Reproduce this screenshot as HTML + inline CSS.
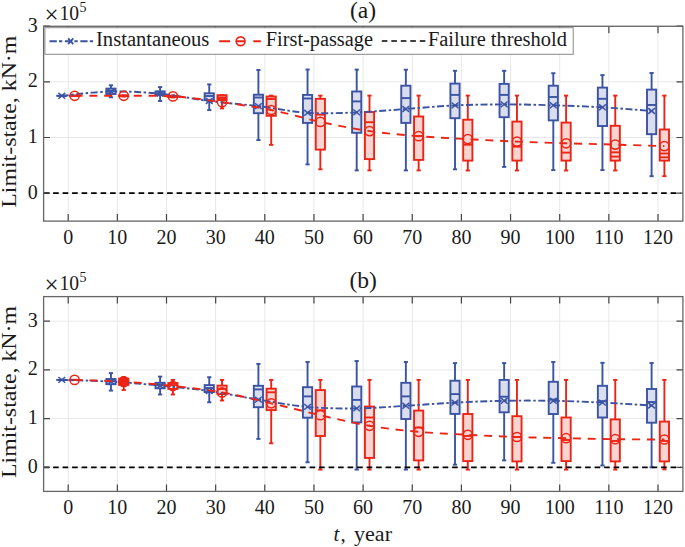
<!DOCTYPE html>
<html><head><meta charset="utf-8"><style>
html,body{margin:0;padding:0;background:#fff;}
svg{display:block;}
.tk{font-family:"Liberation Serif",serif;font-size:20px;fill:#1a1a1a;}
</style></head><body><svg width="685" height="547" viewBox="0 0 685 547"><rect width="685" height="547" fill="#fff"/><g stroke="#e8e8e8" stroke-width="1"><line x1="68.2" y1="26.3" x2="68.2" y2="221.1"/><line x1="117.35" y1="26.3" x2="117.35" y2="221.1"/><line x1="166.5" y1="26.3" x2="166.5" y2="221.1"/><line x1="215.65" y1="26.3" x2="215.65" y2="221.1"/><line x1="264.8" y1="26.3" x2="264.8" y2="221.1"/><line x1="313.95" y1="26.3" x2="313.95" y2="221.1"/><line x1="363.1" y1="26.3" x2="363.1" y2="221.1"/><line x1="412.25" y1="26.3" x2="412.25" y2="221.1"/><line x1="461.4" y1="26.3" x2="461.4" y2="221.1"/><line x1="510.55" y1="26.3" x2="510.55" y2="221.1"/><line x1="559.7" y1="26.3" x2="559.7" y2="221.1"/><line x1="608.85" y1="26.3" x2="608.85" y2="221.1"/><line x1="658" y1="26.3" x2="658" y2="221.1"/><line x1="43.6" y1="193.2" x2="682.9" y2="193.2"/><line x1="43.6" y1="137.5" x2="682.9" y2="137.5"/><line x1="43.6" y1="81.8" x2="682.9" y2="81.8"/><line x1="43.6" y1="26.1" x2="682.9" y2="26.1"/></g><g stroke="#3a53a3" stroke-width="1.9" fill="none"><line x1="61.8" y1="95.8" x2="61.8" y2="95.8"/><line x1="61.8" y1="95.81" x2="61.8" y2="95.8"/><line x1="59.7" y1="95.8" x2="63.9" y2="95.8"/><line x1="59.7" y1="95.8" x2="63.9" y2="95.8"/><rect x="57.2" y="95.8" width="9.2" height="0.01" fill="#d9ddee"/><line x1="57.2" y1="95.8" x2="66.4" y2="95.8"/><line x1="110.95" y1="85.3" x2="110.95" y2="88.6"/><line x1="110.95" y1="94" x2="110.95" y2="97.3"/><line x1="108.85" y1="85.3" x2="113.05" y2="85.3"/><line x1="108.85" y1="97.3" x2="113.05" y2="97.3"/><rect x="106.35" y="88.6" width="9.2" height="5.4" fill="#d9ddee"/><line x1="106.35" y1="91" x2="115.55" y2="91"/><line x1="160.1" y1="87.1" x2="160.1" y2="91.4"/><line x1="160.1" y1="95.1" x2="160.1" y2="101"/><line x1="158" y1="87.1" x2="162.2" y2="87.1"/><line x1="158" y1="101" x2="162.2" y2="101"/><rect x="155.5" y="91.4" width="9.2" height="3.7" fill="#d9ddee"/><line x1="155.5" y1="93.5" x2="164.7" y2="93.5"/><line x1="209.25" y1="84.4" x2="209.25" y2="93.3"/><line x1="209.25" y1="100.2" x2="209.25" y2="110.1"/><line x1="207.15" y1="84.4" x2="211.35" y2="84.4"/><line x1="207.15" y1="110.1" x2="211.35" y2="110.1"/><rect x="204.65" y="93.3" width="9.2" height="6.9" fill="#d9ddee"/><line x1="204.65" y1="96" x2="213.85" y2="96"/><line x1="258.4" y1="70" x2="258.4" y2="94.7"/><line x1="258.4" y1="113.2" x2="258.4" y2="140.1"/><line x1="256.3" y1="70" x2="260.5" y2="70"/><line x1="256.3" y1="140.1" x2="260.5" y2="140.1"/><rect x="253.8" y="94.7" width="9.2" height="18.5" fill="#d9ddee"/><line x1="253.8" y1="97.5" x2="263" y2="97.5"/><line x1="307.55" y1="69.5" x2="307.55" y2="94.9"/><line x1="307.55" y1="122.9" x2="307.55" y2="164.4"/><line x1="305.45" y1="69.5" x2="309.65" y2="69.5"/><line x1="305.45" y1="164.4" x2="309.65" y2="164.4"/><rect x="302.95" y="94.9" width="9.2" height="28" fill="#d9ddee"/><line x1="302.95" y1="98.5" x2="312.15" y2="98.5"/><line x1="356.7" y1="69.6" x2="356.7" y2="91.5"/><line x1="356.7" y1="132.8" x2="356.7" y2="170.4"/><line x1="354.6" y1="69.6" x2="358.8" y2="69.6"/><line x1="354.6" y1="170.4" x2="358.8" y2="170.4"/><rect x="352.1" y="91.5" width="9.2" height="41.3" fill="#d9ddee"/><line x1="352.1" y1="101.4" x2="361.3" y2="101.4"/><line x1="405.85" y1="69.7" x2="405.85" y2="85.7"/><line x1="405.85" y1="122.9" x2="405.85" y2="170.4"/><line x1="403.75" y1="69.7" x2="407.95" y2="69.7"/><line x1="403.75" y1="170.4" x2="407.95" y2="170.4"/><rect x="401.25" y="85.7" width="9.2" height="37.2" fill="#d9ddee"/><line x1="401.25" y1="98.1" x2="410.45" y2="98.1"/><line x1="455" y1="70.8" x2="455" y2="83.6"/><line x1="455" y1="118.2" x2="455" y2="169.3"/><line x1="452.9" y1="70.8" x2="457.1" y2="70.8"/><line x1="452.9" y1="169.3" x2="457.1" y2="169.3"/><rect x="450.4" y="83.6" width="9.2" height="34.6" fill="#d9ddee"/><line x1="450.4" y1="94.9" x2="459.6" y2="94.9"/><line x1="504.15" y1="70.8" x2="504.15" y2="83.9"/><line x1="504.15" y1="117.2" x2="504.15" y2="166.9"/><line x1="502.05" y1="70.8" x2="506.25" y2="70.8"/><line x1="502.05" y1="166.9" x2="506.25" y2="166.9"/><rect x="499.55" y="83.9" width="9.2" height="33.3" fill="#d9ddee"/><line x1="499.55" y1="94.9" x2="508.75" y2="94.9"/><line x1="553.3" y1="73.2" x2="553.3" y2="85.7"/><line x1="553.3" y1="120.4" x2="553.3" y2="170.1"/><line x1="551.2" y1="73.2" x2="555.4" y2="73.2"/><line x1="551.2" y1="170.1" x2="555.4" y2="170.1"/><rect x="548.7" y="85.7" width="9.2" height="34.7" fill="#d9ddee"/><line x1="548.7" y1="97" x2="557.9" y2="97"/><line x1="602.45" y1="75.1" x2="602.45" y2="87.6"/><line x1="602.45" y1="126" x2="602.45" y2="170.1"/><line x1="600.35" y1="75.1" x2="604.55" y2="75.1"/><line x1="600.35" y1="170.1" x2="604.55" y2="170.1"/><rect x="597.85" y="87.6" width="9.2" height="38.4" fill="#d9ddee"/><line x1="597.85" y1="98.8" x2="607.05" y2="98.8"/><line x1="651.6" y1="73" x2="651.6" y2="89.6"/><line x1="651.6" y1="134.2" x2="651.6" y2="176.2"/><line x1="649.5" y1="73" x2="653.7" y2="73"/><line x1="649.5" y1="176.2" x2="653.7" y2="176.2"/><rect x="647" y="89.6" width="9.2" height="44.6" fill="#d9ddee"/><line x1="647" y1="105" x2="656.2" y2="105"/></g><g stroke="#ec2416" stroke-width="1.9" fill="none"><line x1="74.6" y1="95.8" x2="74.6" y2="95.8"/><line x1="74.6" y1="95.81" x2="74.6" y2="95.8"/><line x1="72.5" y1="95.8" x2="76.7" y2="95.8"/><line x1="72.5" y1="95.8" x2="76.7" y2="95.8"/><rect x="70" y="95.8" width="9.2" height="0.01" fill="#f9d5d2"/><line x1="70" y1="95.8" x2="79.2" y2="95.8"/><line x1="123.75" y1="95.5" x2="123.75" y2="95.6"/><line x1="123.75" y1="96.2" x2="123.75" y2="96.5"/><line x1="121.65" y1="95.5" x2="125.85" y2="95.5"/><line x1="121.65" y1="96.5" x2="125.85" y2="96.5"/><rect x="119.15" y="95.6" width="9.2" height="0.6" fill="#f9d5d2"/><line x1="119.15" y1="95.8" x2="128.35" y2="95.8"/><line x1="172.9" y1="95.5" x2="172.9" y2="95.8"/><line x1="172.9" y1="97" x2="172.9" y2="97.5"/><line x1="170.8" y1="95.5" x2="175" y2="95.5"/><line x1="170.8" y1="97.5" x2="175" y2="97.5"/><rect x="168.3" y="95.8" width="9.2" height="1.2" fill="#f9d5d2"/><line x1="168.3" y1="96.2" x2="177.5" y2="96.2"/><line x1="222.05" y1="95.2" x2="222.05" y2="95.2"/><line x1="222.05" y1="100" x2="222.05" y2="108.4"/><line x1="219.95" y1="95.2" x2="224.15" y2="95.2"/><line x1="219.95" y1="108.4" x2="224.15" y2="108.4"/><rect x="217.45" y="95.2" width="9.2" height="4.8" fill="#f9d5d2"/><line x1="217.45" y1="97.4" x2="226.65" y2="97.4"/><line x1="217.45" y1="99" x2="226.65" y2="99"/><line x1="271.2" y1="95.6" x2="271.2" y2="96.5"/><line x1="271.2" y1="115.8" x2="271.2" y2="144.9"/><line x1="269.1" y1="95.6" x2="273.3" y2="95.6"/><line x1="269.1" y1="144.9" x2="273.3" y2="144.9"/><rect x="266.6" y="96.5" width="9.2" height="19.3" fill="#f9d5d2"/><line x1="266.6" y1="99" x2="275.8" y2="99"/><line x1="320.35" y1="95.6" x2="320.35" y2="98.8"/><line x1="320.35" y1="149.6" x2="320.35" y2="169.3"/><line x1="318.25" y1="95.6" x2="322.45" y2="95.6"/><line x1="318.25" y1="169.3" x2="322.45" y2="169.3"/><rect x="315.75" y="98.8" width="9.2" height="50.8" fill="#f9d5d2"/><line x1="315.75" y1="114.6" x2="324.95" y2="114.6"/><line x1="369.5" y1="95.6" x2="369.5" y2="112"/><line x1="369.5" y1="159.1" x2="369.5" y2="170.4"/><line x1="367.4" y1="95.6" x2="371.6" y2="95.6"/><line x1="367.4" y1="170.4" x2="371.6" y2="170.4"/><rect x="364.9" y="112" width="9.2" height="47.1" fill="#f9d5d2"/><line x1="364.9" y1="122.2" x2="374.1" y2="122.2"/><line x1="418.65" y1="95.6" x2="418.65" y2="116.5"/><line x1="418.65" y1="159.9" x2="418.65" y2="170.4"/><line x1="416.55" y1="95.6" x2="420.75" y2="95.6"/><line x1="416.55" y1="170.4" x2="420.75" y2="170.4"/><rect x="414.05" y="116.5" width="9.2" height="43.4" fill="#f9d5d2"/><line x1="414.05" y1="136" x2="423.25" y2="136"/><line x1="467.8" y1="95.6" x2="467.8" y2="119.7"/><line x1="467.8" y1="160.6" x2="467.8" y2="170.5"/><line x1="465.7" y1="95.6" x2="469.9" y2="95.6"/><line x1="465.7" y1="170.5" x2="469.9" y2="170.5"/><rect x="463.2" y="119.7" width="9.2" height="40.9" fill="#f9d5d2"/><line x1="463.2" y1="144.7" x2="472.4" y2="144.7"/><line x1="516.95" y1="95.6" x2="516.95" y2="121.6"/><line x1="516.95" y1="160.6" x2="516.95" y2="170.5"/><line x1="514.85" y1="95.6" x2="519.05" y2="95.6"/><line x1="514.85" y1="170.5" x2="519.05" y2="170.5"/><rect x="512.35" y="121.6" width="9.2" height="39" fill="#f9d5d2"/><line x1="512.35" y1="146.7" x2="521.55" y2="146.7"/><line x1="566.1" y1="95.6" x2="566.1" y2="122.6"/><line x1="566.1" y1="160.6" x2="566.1" y2="170.5"/><line x1="564" y1="95.6" x2="568.2" y2="95.6"/><line x1="564" y1="170.5" x2="568.2" y2="170.5"/><rect x="561.5" y="122.6" width="9.2" height="38" fill="#f9d5d2"/><line x1="561.5" y1="152.6" x2="570.7" y2="152.6"/><line x1="615.25" y1="95.6" x2="615.25" y2="125.8"/><line x1="615.25" y1="160.6" x2="615.25" y2="170.5"/><line x1="613.15" y1="95.6" x2="617.35" y2="95.6"/><line x1="613.15" y1="170.5" x2="617.35" y2="170.5"/><rect x="610.65" y="125.8" width="9.2" height="34.8" fill="#f9d5d2"/><line x1="610.65" y1="152.3" x2="619.85" y2="152.3"/><line x1="610.65" y1="156.6" x2="619.85" y2="156.6"/><line x1="664.4" y1="95.6" x2="664.4" y2="129.5"/><line x1="664.4" y1="160.6" x2="664.4" y2="176.2"/><line x1="662.3" y1="95.6" x2="666.5" y2="95.6"/><line x1="662.3" y1="176.2" x2="666.5" y2="176.2"/><rect x="659.8" y="129.5" width="9.2" height="31.1" fill="#f9d5d2"/><line x1="659.8" y1="153.5" x2="669" y2="153.5"/><line x1="659.8" y1="157.3" x2="669" y2="157.3"/></g><path d="M61.8,95.8 C69.99,95.08 94.57,91.85 110.95,91.5 C127.33,91.15 143.72,92.12 160.1,93.7 C176.48,95.28 192.87,98.93 209.25,101 C225.63,103.07 242.02,104.13 258.4,106.1 C274.78,108.07 291.17,111.75 307.55,112.8 C323.93,113.85 340.32,113.03 356.7,112.4 C373.08,111.77 389.47,110.17 405.85,109 C422.23,107.83 438.62,106.17 455,105.4 C471.38,104.63 487.77,104.42 504.15,104.4 C520.53,104.38 536.92,104.82 553.3,105.3 C569.68,105.78 586.07,106.35 602.45,107.3 C618.83,108.25 643.41,110.38 651.6,111" stroke="#3a53a3" stroke-width="1.9" fill="none" stroke-dasharray="7 2.5 2.5 2.5"/><g stroke="#3a53a3" stroke-width="1.5" fill="none"><path d="M58.4,92.9L65.2,98.7M58.4,98.7L65.2,92.9"/><path d="M107.55,88.6L114.35,94.4M107.55,94.4L114.35,88.6"/><path d="M156.7,90.8L163.5,96.6M156.7,96.6L163.5,90.8"/><path d="M205.85,98.1L212.65,103.9M205.85,103.9L212.65,98.1"/><path d="M255,103.2L261.8,109M255,109L261.8,103.2"/><path d="M304.15,109.9L310.95,115.7M304.15,115.7L310.95,109.9"/><path d="M353.3,109.5L360.1,115.3M353.3,115.3L360.1,109.5"/><path d="M402.45,106.1L409.25,111.9M402.45,111.9L409.25,106.1"/><path d="M451.6,102.5L458.4,108.3M451.6,108.3L458.4,102.5"/><path d="M500.75,101.5L507.55,107.3M500.75,107.3L507.55,101.5"/><path d="M549.9,102.4L556.7,108.2M549.9,108.2L556.7,102.4"/><path d="M599.05,104.4L605.85,110.2M599.05,110.2L605.85,104.4"/><path d="M648.2,108.1L655,113.9M648.2,113.9L655,108.1"/></g><path d="M74.6,95.8 C82.79,95.8 107.37,95.7 123.75,95.8 C140.13,95.9 156.52,95.33 172.9,96.4 C189.28,97.47 205.67,99.93 222.05,102.2 C238.43,104.47 254.82,106.72 271.2,110 C287.58,113.28 303.97,118.38 320.35,121.9 C336.73,125.42 353.12,128.72 369.5,131.1 C385.88,133.48 402.27,134.87 418.65,136.2 C435.03,137.53 451.42,138.2 467.8,139.1 C484.18,140 500.57,140.9 516.95,141.6 C533.33,142.3 549.72,142.8 566.1,143.3 C582.48,143.8 598.87,144.13 615.25,144.6 C631.63,145.07 656.21,145.85 664.4,146.1" stroke="#ec2416" stroke-width="1.9" fill="none" stroke-dasharray="8 6.8"/><g stroke="#ec2416" stroke-width="1.5" fill="none"><circle cx="74.6" cy="95.8" r="4.6"/><circle cx="123.75" cy="95.8" r="4.6"/><circle cx="172.9" cy="96.4" r="4.6"/><circle cx="222.05" cy="102.2" r="4.6"/><circle cx="271.2" cy="110" r="4.6"/><circle cx="320.35" cy="121.9" r="4.6"/><circle cx="369.5" cy="131.1" r="4.6"/><circle cx="418.65" cy="136.2" r="4.6"/><circle cx="467.8" cy="139.1" r="4.6"/><circle cx="516.95" cy="141.6" r="4.6"/><circle cx="566.1" cy="143.3" r="4.6"/><circle cx="615.25" cy="144.6" r="4.6"/><circle cx="664.4" cy="146.1" r="4.6"/></g><line x1="43.6" y1="193.2" x2="680.5" y2="193.2" stroke="#000" stroke-width="1.8" stroke-dasharray="5.6 3.9"/><path d="M68.2,221.1V214.1M68.2,26.3V33.3M117.35,221.1V214.1M117.35,26.3V33.3M166.5,221.1V214.1M166.5,26.3V33.3M215.65,221.1V214.1M215.65,26.3V33.3M264.8,221.1V214.1M264.8,26.3V33.3M313.95,221.1V214.1M313.95,26.3V33.3M363.1,221.1V214.1M363.1,26.3V33.3M412.25,221.1V214.1M412.25,26.3V33.3M461.4,221.1V214.1M461.4,26.3V33.3M510.55,221.1V214.1M510.55,26.3V33.3M559.7,221.1V214.1M559.7,26.3V33.3M608.85,221.1V214.1M608.85,26.3V33.3M658,221.1V214.1M658,26.3V33.3M43.6,193.2H50M682.9,193.2H676.5M43.6,137.5H50M682.9,137.5H676.5M43.6,81.8H50M682.9,81.8H676.5M43.6,26.1H50M682.9,26.1H676.5" stroke="#444" stroke-width="1.2" fill="none"/><rect x="43.6" y="26.3" width="639.3" height="194.8" fill="none" stroke="#666" stroke-width="1.3"/><g class="tk"><text x="68.2" y="244.1" text-anchor="middle">0</text><text x="117.35" y="244.1" text-anchor="middle">10</text><text x="166.5" y="244.1" text-anchor="middle">20</text><text x="215.65" y="244.1" text-anchor="middle">30</text><text x="264.8" y="244.1" text-anchor="middle">40</text><text x="313.95" y="244.1" text-anchor="middle">50</text><text x="363.1" y="244.1" text-anchor="middle">60</text><text x="412.25" y="244.1" text-anchor="middle">70</text><text x="461.4" y="244.1" text-anchor="middle">80</text><text x="510.55" y="244.1" text-anchor="middle">90</text><text x="559.7" y="244.1" text-anchor="middle">100</text><text x="608.85" y="244.1" text-anchor="middle">110</text><text x="658" y="244.1" text-anchor="middle">120</text><text x="37.8" y="198.6" text-anchor="end">0</text><text x="37.8" y="142.9" text-anchor="end">1</text><text x="37.8" y="87.2" text-anchor="end">2</text><text x="37.8" y="31.5" text-anchor="end">3</text></g><text x="44.6" y="22.5" class="tk" style="font-size:25px">×</text><text x="59.4" y="19.7" class="tk" textLength="19.6" lengthAdjust="spacingAndGlyphs">10</text><text x="79.6" y="11.5" class="tk" style="font-size:14px">5</text><text x="363.1" y="17.8" text-anchor="middle" class="tk" style="font-size:23.5px">(a)</text><text transform="translate(15.7,121.7) rotate(-90)" text-anchor="middle" class="tk" textLength="172" lengthAdjust="spacingAndGlyphs">Limit-state, kN·m</text><rect x="44.9" y="27.7" width="528.3" height="26.6" fill="#fff" stroke="#888" stroke-width="1"/><line x1="49.5" y1="41.2" x2="93.2" y2="41.2" stroke="#3a53a3" stroke-width="2" stroke-dasharray="7.3 2.2 3.3 2.6"/><g stroke="#3a53a3" stroke-width="1.8"><path d="M68.1,38.3L73.3,44.1M68.1,44.1L73.3,38.3"/></g><text x="96" y="46.2" class="tk" textLength="113.3" lengthAdjust="spacingAndGlyphs">Instantaneous</text><path d="M219.2,41.2H230.1M236.4,41.2H244.8M253.3,41.2H260.8" stroke="#ec2416" stroke-width="2"/><circle cx="240.6" cy="41.2" r="4.4" stroke="#ec2416" stroke-width="1.7" fill="none"/><text x="265.8" y="46.2" class="tk" textLength="107.1" lengthAdjust="spacingAndGlyphs">First-passage</text><line x1="381.8" y1="41" x2="425.4" y2="41" stroke="#000" stroke-width="1.5" stroke-dasharray="5.6 3.9"/><text x="427.9" y="46.2" class="tk" textLength="139" lengthAdjust="spacingAndGlyphs">Failure threshold</text><g stroke="#e8e8e8" stroke-width="1"><line x1="68.2" y1="296.6" x2="68.2" y2="491.4"/><line x1="117.35" y1="296.6" x2="117.35" y2="491.4"/><line x1="166.5" y1="296.6" x2="166.5" y2="491.4"/><line x1="215.65" y1="296.6" x2="215.65" y2="491.4"/><line x1="264.8" y1="296.6" x2="264.8" y2="491.4"/><line x1="313.95" y1="296.6" x2="313.95" y2="491.4"/><line x1="363.1" y1="296.6" x2="363.1" y2="491.4"/><line x1="412.25" y1="296.6" x2="412.25" y2="491.4"/><line x1="461.4" y1="296.6" x2="461.4" y2="491.4"/><line x1="510.55" y1="296.6" x2="510.55" y2="491.4"/><line x1="559.7" y1="296.6" x2="559.7" y2="491.4"/><line x1="608.85" y1="296.6" x2="608.85" y2="491.4"/><line x1="658" y1="296.6" x2="658" y2="491.4"/><line x1="43.6" y1="467.3" x2="682.9" y2="467.3"/><line x1="43.6" y1="418.6" x2="682.9" y2="418.6"/><line x1="43.6" y1="369.9" x2="682.9" y2="369.9"/><line x1="43.6" y1="321.2" x2="682.9" y2="321.2"/></g><g stroke="#3a53a3" stroke-width="1.9" fill="none"><line x1="61.8" y1="379.9" x2="61.8" y2="379.9"/><line x1="61.8" y1="379.91" x2="61.8" y2="379.9"/><line x1="59.7" y1="379.9" x2="63.9" y2="379.9"/><line x1="59.7" y1="379.9" x2="63.9" y2="379.9"/><rect x="57.2" y="379.9" width="9.2" height="0.01" fill="#d9ddee"/><line x1="57.2" y1="379.9" x2="66.4" y2="379.9"/><line x1="110.95" y1="373.1" x2="110.95" y2="379"/><line x1="110.95" y1="384.2" x2="110.95" y2="390.6"/><line x1="108.85" y1="373.1" x2="113.05" y2="373.1"/><line x1="108.85" y1="390.6" x2="113.05" y2="390.6"/><rect x="106.35" y="379" width="9.2" height="5.2" fill="#d9ddee"/><line x1="106.35" y1="381" x2="115.55" y2="381"/><line x1="160.1" y1="376.6" x2="160.1" y2="382.8"/><line x1="160.1" y1="388.3" x2="160.1" y2="394.5"/><line x1="158" y1="376.6" x2="162.2" y2="376.6"/><line x1="158" y1="394.5" x2="162.2" y2="394.5"/><rect x="155.5" y="382.8" width="9.2" height="5.5" fill="#d9ddee"/><line x1="155.5" y1="385" x2="164.7" y2="385"/><line x1="209.25" y1="377.2" x2="209.25" y2="385.1"/><line x1="209.25" y1="392.1" x2="209.25" y2="402.3"/><line x1="207.15" y1="377.2" x2="211.35" y2="377.2"/><line x1="207.15" y1="402.3" x2="211.35" y2="402.3"/><rect x="204.65" y="385.1" width="9.2" height="7" fill="#d9ddee"/><line x1="204.65" y1="388" x2="213.85" y2="388"/><line x1="258.4" y1="363.9" x2="258.4" y2="385.8"/><line x1="258.4" y1="407.2" x2="258.4" y2="438.9"/><line x1="256.3" y1="363.9" x2="260.5" y2="363.9"/><line x1="256.3" y1="438.9" x2="260.5" y2="438.9"/><rect x="253.8" y="385.8" width="9.2" height="21.4" fill="#d9ddee"/><line x1="253.8" y1="389.4" x2="263" y2="389.4"/><line x1="307.55" y1="362" x2="307.55" y2="387.2"/><line x1="307.55" y1="417.7" x2="307.55" y2="462.3"/><line x1="305.45" y1="362" x2="309.65" y2="362"/><line x1="305.45" y1="462.3" x2="309.65" y2="462.3"/><rect x="302.95" y="387.2" width="9.2" height="30.5" fill="#d9ddee"/><line x1="302.95" y1="396.4" x2="312.15" y2="396.4"/><line x1="356.7" y1="361" x2="356.7" y2="386.5"/><line x1="356.7" y1="422.4" x2="356.7" y2="469.6"/><line x1="354.6" y1="361" x2="358.8" y2="361"/><line x1="354.6" y1="469.6" x2="358.8" y2="469.6"/><rect x="352.1" y="386.5" width="9.2" height="35.9" fill="#d9ddee"/><line x1="352.1" y1="399.9" x2="361.3" y2="399.9"/><line x1="405.85" y1="362" x2="405.85" y2="382.8"/><line x1="405.85" y1="419" x2="405.85" y2="469.6"/><line x1="403.75" y1="362" x2="407.95" y2="362"/><line x1="403.75" y1="469.6" x2="407.95" y2="469.6"/><rect x="401.25" y="382.8" width="9.2" height="36.2" fill="#d9ddee"/><line x1="401.25" y1="396.4" x2="410.45" y2="396.4"/><line x1="455" y1="363.1" x2="455" y2="380.7"/><line x1="455" y1="413.9" x2="455" y2="464.7"/><line x1="452.9" y1="363.1" x2="457.1" y2="363.1"/><line x1="452.9" y1="464.7" x2="457.1" y2="464.7"/><rect x="450.4" y="380.7" width="9.2" height="33.2" fill="#d9ddee"/><line x1="450.4" y1="394.1" x2="459.6" y2="394.1"/><line x1="504.15" y1="363.1" x2="504.15" y2="379.9"/><line x1="504.15" y1="412.3" x2="504.15" y2="460.4"/><line x1="502.05" y1="363.1" x2="506.25" y2="363.1"/><line x1="502.05" y1="460.4" x2="506.25" y2="460.4"/><rect x="499.55" y="379.9" width="9.2" height="32.4" fill="#d9ddee"/><line x1="499.55" y1="396.7" x2="508.75" y2="396.7"/><line x1="553.3" y1="362" x2="553.3" y2="381.8"/><line x1="553.3" y1="414" x2="553.3" y2="462.8"/><line x1="551.2" y1="362" x2="555.4" y2="362"/><line x1="551.2" y1="462.8" x2="555.4" y2="462.8"/><rect x="548.7" y="381.8" width="9.2" height="32.2" fill="#d9ddee"/><line x1="548.7" y1="399.6" x2="557.9" y2="399.6"/><line x1="602.45" y1="362.8" x2="602.45" y2="385.8"/><line x1="602.45" y1="417.5" x2="602.45" y2="465.5"/><line x1="600.35" y1="362.8" x2="604.55" y2="362.8"/><line x1="600.35" y1="465.5" x2="604.55" y2="465.5"/><rect x="597.85" y="385.8" width="9.2" height="31.7" fill="#d9ddee"/><line x1="597.85" y1="401.1" x2="607.05" y2="401.1"/><line x1="651.6" y1="363" x2="651.6" y2="389"/><line x1="651.6" y1="422.7" x2="651.6" y2="467.3"/><line x1="649.5" y1="363" x2="653.7" y2="363"/><line x1="649.5" y1="467.3" x2="653.7" y2="467.3"/><rect x="647" y="389" width="9.2" height="33.7" fill="#d9ddee"/><line x1="647" y1="402" x2="656.2" y2="402"/></g><g stroke="#ec2416" stroke-width="1.9" fill="none"><line x1="74.6" y1="379.9" x2="74.6" y2="379.9"/><line x1="74.6" y1="379.91" x2="74.6" y2="379.9"/><line x1="72.5" y1="379.9" x2="76.7" y2="379.9"/><line x1="72.5" y1="379.9" x2="76.7" y2="379.9"/><rect x="70" y="379.9" width="9.2" height="0.01" fill="#f9d5d2"/><line x1="70" y1="379.9" x2="79.2" y2="379.9"/><line x1="123.75" y1="377.2" x2="123.75" y2="378.6"/><line x1="123.75" y1="385" x2="123.75" y2="390"/><line x1="121.65" y1="377.2" x2="125.85" y2="377.2"/><line x1="121.65" y1="390" x2="125.85" y2="390"/><rect x="119.15" y="378.6" width="9.2" height="6.4" fill="#f9d5d2"/><line x1="119.15" y1="381.5" x2="128.35" y2="381.5"/><line x1="172.9" y1="379.9" x2="172.9" y2="383"/><line x1="172.9" y1="388.9" x2="172.9" y2="394.5"/><line x1="170.8" y1="379.9" x2="175" y2="379.9"/><line x1="170.8" y1="394.5" x2="175" y2="394.5"/><rect x="168.3" y="383" width="9.2" height="5.9" fill="#f9d5d2"/><line x1="168.3" y1="385" x2="177.5" y2="385"/><line x1="222.05" y1="379.9" x2="222.05" y2="385.6"/><line x1="222.05" y1="394.1" x2="222.05" y2="400.5"/><line x1="219.95" y1="379.9" x2="224.15" y2="379.9"/><line x1="219.95" y1="400.5" x2="224.15" y2="400.5"/><rect x="217.45" y="385.6" width="9.2" height="8.5" fill="#f9d5d2"/><line x1="217.45" y1="389" x2="226.65" y2="389"/><line x1="271.2" y1="379.9" x2="271.2" y2="388.7"/><line x1="271.2" y1="410.1" x2="271.2" y2="443.3"/><line x1="269.1" y1="379.9" x2="273.3" y2="379.9"/><line x1="269.1" y1="443.3" x2="273.3" y2="443.3"/><rect x="266.6" y="388.7" width="9.2" height="21.4" fill="#f9d5d2"/><line x1="266.6" y1="392.3" x2="275.8" y2="392.3"/><line x1="320.35" y1="379.9" x2="320.35" y2="390.1"/><line x1="320.35" y1="436" x2="320.35" y2="469.6"/><line x1="318.25" y1="379.9" x2="322.45" y2="379.9"/><line x1="318.25" y1="469.6" x2="322.45" y2="469.6"/><rect x="315.75" y="390.1" width="9.2" height="45.9" fill="#f9d5d2"/><line x1="315.75" y1="410.3" x2="324.95" y2="410.3"/><line x1="369.5" y1="379.9" x2="369.5" y2="406.6"/><line x1="369.5" y1="457.9" x2="369.5" y2="469.6"/><line x1="367.4" y1="379.9" x2="371.6" y2="379.9"/><line x1="367.4" y1="469.6" x2="371.6" y2="469.6"/><rect x="364.9" y="406.6" width="9.2" height="51.3" fill="#f9d5d2"/><line x1="364.9" y1="417.5" x2="374.1" y2="417.5"/><line x1="418.65" y1="379.9" x2="418.65" y2="410.6"/><line x1="418.65" y1="460.4" x2="418.65" y2="469.6"/><line x1="416.55" y1="379.9" x2="420.75" y2="379.9"/><line x1="416.55" y1="469.6" x2="420.75" y2="469.6"/><rect x="414.05" y="410.6" width="9.2" height="49.8" fill="#f9d5d2"/><line x1="414.05" y1="427.5" x2="423.25" y2="427.5"/><line x1="467.8" y1="379.9" x2="467.8" y2="414"/><line x1="467.8" y1="461.1" x2="467.8" y2="469.6"/><line x1="465.7" y1="379.9" x2="469.9" y2="379.9"/><line x1="465.7" y1="469.6" x2="469.9" y2="469.6"/><rect x="463.2" y="414" width="9.2" height="47.1" fill="#f9d5d2"/><line x1="463.2" y1="436" x2="472.4" y2="436"/><line x1="516.95" y1="379.9" x2="516.95" y2="416.2"/><line x1="516.95" y1="461.4" x2="516.95" y2="469.6"/><line x1="514.85" y1="379.9" x2="519.05" y2="379.9"/><line x1="514.85" y1="469.6" x2="519.05" y2="469.6"/><rect x="512.35" y="416.2" width="9.2" height="45.2" fill="#f9d5d2"/><line x1="512.35" y1="437" x2="521.55" y2="437"/><line x1="566.1" y1="379.9" x2="566.1" y2="417.5"/><line x1="566.1" y1="461.1" x2="566.1" y2="469.6"/><line x1="564" y1="379.9" x2="568.2" y2="379.9"/><line x1="564" y1="469.6" x2="568.2" y2="469.6"/><rect x="561.5" y="417.5" width="9.2" height="43.6" fill="#f9d5d2"/><line x1="561.5" y1="440" x2="570.7" y2="440"/><line x1="615.25" y1="379.9" x2="615.25" y2="419.4"/><line x1="615.25" y1="461.4" x2="615.25" y2="469.6"/><line x1="613.15" y1="379.9" x2="617.35" y2="379.9"/><line x1="613.15" y1="469.6" x2="617.35" y2="469.6"/><rect x="610.65" y="419.4" width="9.2" height="42" fill="#f9d5d2"/><line x1="610.65" y1="441" x2="619.85" y2="441"/><line x1="664.4" y1="379.9" x2="664.4" y2="421.6"/><line x1="664.4" y1="461.4" x2="664.4" y2="469.4"/><line x1="662.3" y1="379.9" x2="666.5" y2="379.9"/><line x1="662.3" y1="469.4" x2="666.5" y2="469.4"/><rect x="659.8" y="421.6" width="9.2" height="39.8" fill="#f9d5d2"/><line x1="659.8" y1="441" x2="669" y2="441"/></g><path d="M61.8,379.9 C69.99,380.18 94.57,380.65 110.95,381.6 C127.33,382.55 143.72,384.03 160.1,385.6 C176.48,387.17 192.87,388.67 209.25,391 C225.63,393.33 242.02,396.95 258.4,399.6 C274.78,402.25 291.17,405.43 307.55,406.9 C323.93,408.37 340.32,408.58 356.7,408.4 C373.08,408.22 389.47,406.77 405.85,405.8 C422.23,404.83 438.62,403.43 455,402.6 C471.38,401.77 487.77,401.1 504.15,400.8 C520.53,400.5 536.92,400.5 553.3,400.8 C569.68,401.1 586.07,401.82 602.45,402.6 C618.83,403.38 643.41,405.02 651.6,405.5" stroke="#3a53a3" stroke-width="1.9" fill="none" stroke-dasharray="7 2.5 2.5 2.5"/><g stroke="#3a53a3" stroke-width="1.5" fill="none"><path d="M58.4,377L65.2,382.8M58.4,382.8L65.2,377"/><path d="M107.55,378.7L114.35,384.5M107.55,384.5L114.35,378.7"/><path d="M156.7,382.7L163.5,388.5M156.7,388.5L163.5,382.7"/><path d="M205.85,388.1L212.65,393.9M205.85,393.9L212.65,388.1"/><path d="M255,396.7L261.8,402.5M255,402.5L261.8,396.7"/><path d="M304.15,404L310.95,409.8M304.15,409.8L310.95,404"/><path d="M353.3,405.5L360.1,411.3M353.3,411.3L360.1,405.5"/><path d="M402.45,402.9L409.25,408.7M402.45,408.7L409.25,402.9"/><path d="M451.6,399.7L458.4,405.5M451.6,405.5L458.4,399.7"/><path d="M500.75,397.9L507.55,403.7M500.75,403.7L507.55,397.9"/><path d="M549.9,397.9L556.7,403.7M549.9,403.7L556.7,397.9"/><path d="M599.05,399.7L605.85,405.5M599.05,405.5L605.85,399.7"/><path d="M648.2,402.6L655,408.4M648.2,408.4L655,402.6"/></g><path d="M74.6,379.9 C82.79,380.2 107.37,380.68 123.75,381.7 C140.13,382.72 156.52,384.22 172.9,386 C189.28,387.78 205.67,389.52 222.05,392.4 C238.43,395.28 254.82,399.5 271.2,403.3 C287.58,407.1 303.97,411.45 320.35,415.2 C336.73,418.95 353.12,423.03 369.5,425.8 C385.88,428.57 402.27,430.3 418.65,431.8 C435.03,433.3 451.42,433.93 467.8,434.8 C484.18,435.67 500.57,436.43 516.95,437 C533.33,437.57 549.72,437.83 566.1,438.2 C582.48,438.57 598.87,438.98 615.25,439.2 C631.63,439.42 656.21,439.45 664.4,439.5" stroke="#ec2416" stroke-width="1.9" fill="none" stroke-dasharray="8 6.8"/><g stroke="#ec2416" stroke-width="1.5" fill="none"><circle cx="74.6" cy="379.9" r="4.6"/><circle cx="123.75" cy="381.7" r="4.6"/><circle cx="172.9" cy="386" r="4.6"/><circle cx="222.05" cy="392.4" r="4.6"/><circle cx="271.2" cy="403.3" r="4.6"/><circle cx="320.35" cy="415.2" r="4.6"/><circle cx="369.5" cy="425.8" r="4.6"/><circle cx="418.65" cy="431.8" r="4.6"/><circle cx="467.8" cy="434.8" r="4.6"/><circle cx="516.95" cy="437" r="4.6"/><circle cx="566.1" cy="438.2" r="4.6"/><circle cx="615.25" cy="439.2" r="4.6"/><circle cx="664.4" cy="439.5" r="4.6"/></g><line x1="43.6" y1="467.3" x2="680.5" y2="467.3" stroke="#000" stroke-width="1.8" stroke-dasharray="5.6 3.9"/><path d="M68.2,491.4V484.4M68.2,296.6V303.6M117.35,491.4V484.4M117.35,296.6V303.6M166.5,491.4V484.4M166.5,296.6V303.6M215.65,491.4V484.4M215.65,296.6V303.6M264.8,491.4V484.4M264.8,296.6V303.6M313.95,491.4V484.4M313.95,296.6V303.6M363.1,491.4V484.4M363.1,296.6V303.6M412.25,491.4V484.4M412.25,296.6V303.6M461.4,491.4V484.4M461.4,296.6V303.6M510.55,491.4V484.4M510.55,296.6V303.6M559.7,491.4V484.4M559.7,296.6V303.6M608.85,491.4V484.4M608.85,296.6V303.6M658,491.4V484.4M658,296.6V303.6M43.6,467.3H50M682.9,467.3H676.5M43.6,418.6H50M682.9,418.6H676.5M43.6,369.9H50M682.9,369.9H676.5M43.6,321.2H50M682.9,321.2H676.5" stroke="#444" stroke-width="1.2" fill="none"/><rect x="43.6" y="296.6" width="639.3" height="194.8" fill="none" stroke="#666" stroke-width="1.3"/><g class="tk"><text x="68.2" y="514.4" text-anchor="middle">0</text><text x="117.35" y="514.4" text-anchor="middle">10</text><text x="166.5" y="514.4" text-anchor="middle">20</text><text x="215.65" y="514.4" text-anchor="middle">30</text><text x="264.8" y="514.4" text-anchor="middle">40</text><text x="313.95" y="514.4" text-anchor="middle">50</text><text x="363.1" y="514.4" text-anchor="middle">60</text><text x="412.25" y="514.4" text-anchor="middle">70</text><text x="461.4" y="514.4" text-anchor="middle">80</text><text x="510.55" y="514.4" text-anchor="middle">90</text><text x="559.7" y="514.4" text-anchor="middle">100</text><text x="608.85" y="514.4" text-anchor="middle">110</text><text x="658" y="514.4" text-anchor="middle">120</text><text x="37.8" y="472.7" text-anchor="end">0</text><text x="37.8" y="424" text-anchor="end">1</text><text x="37.8" y="375.3" text-anchor="end">2</text><text x="37.8" y="326.6" text-anchor="end">3</text></g><text x="44.6" y="292.8" class="tk" style="font-size:25px">×</text><text x="59.4" y="290" class="tk" textLength="19.6" lengthAdjust="spacingAndGlyphs">10</text><text x="79.6" y="281.8" class="tk" style="font-size:14px">5</text><text x="363.1" y="288.1" text-anchor="middle" class="tk" style="font-size:23.5px">(b)</text><text transform="translate(15.7,392) rotate(-90)" text-anchor="middle" class="tk" textLength="172" lengthAdjust="spacingAndGlyphs">Limit-state, kN·m</text><circle cx="123.75" cy="381.7" r="5.6" fill="#ec2416"/><text x="333.6" y="541" class="tk" style="font-size:21px;font-style:italic">t</text><text x="340.6" y="541" class="tk" style="font-size:21px">,</text><text x="354" y="541" class="tk" style="font-size:21px" textLength="38" lengthAdjust="spacingAndGlyphs">year</text></svg></body></html>
